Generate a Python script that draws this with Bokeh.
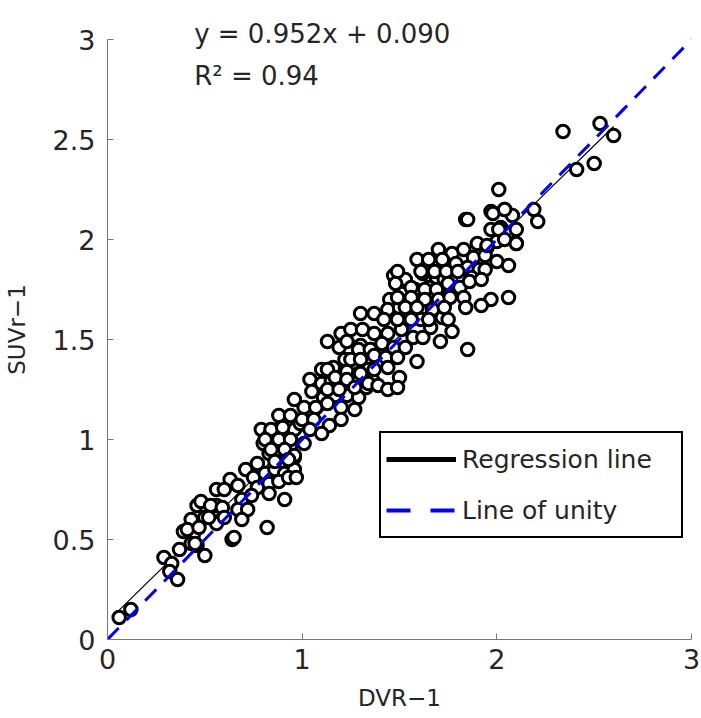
from bokeh.plotting import figure
from bokeh.models import Range1d, Label, Legend, LegendItem, FixedTicker, ColumnDataSource
from bokeh.embed import file_html
from bokeh.resources import INLINE

# ---------------- data ----------------
dvr = [
    # lower-left
    0.06, 0.12, 0.29, 0.33, 0.32, 0.36, 0.37, 0.39, 0.44, 0.50, 0.64, 0.46, 0.51, 0.56, 0.50, 0.56, 0.43, 0.46,
    # 0.4 - 1.05 band
    0.79, 0.83, 0.89, 0.96, 0.99, 0.80, 0.88, 0.94, 0.83, 0.77, 0.89, 0.96, 0.71, 0.75, 0.81, 0.86, 0.91, 0.96,
    0.63, 0.67, 0.77, 0.83, 0.88, 0.93, 0.56, 0.60, 0.69, 0.74, 0.83, 0.91, 0.48, 0.53, 0.59, 0.67, 0.72, 0.52,
    0.60, 0.69, 0.43, 0.41, 0.47, 0.82, 0.65, 0.45, 0.97,
    # 0.75 - 1.4 band
    1.20, 1.24, 1.30, 1.35, 1.22, 1.29, 1.35, 1.10, 1.16, 1.23, 1.29, 1.34, 1.04, 1.10, 1.15, 1.21, 1.27, 1.33,
    1.36, 1.05, 1.11, 1.17, 1.23, 1.29, 0.96, 1.01, 1.07, 1.13, 1.20, 1.27, 0.88, 0.94, 1.00, 1.06, 1.14, 1.20,
    0.84, 0.90, 1.04, 1.10, 0.81, 0.88, 0.94, 1.01, 0.84, 0.91, 0.96, 0.86, 0.93,
    # 1.1 - 1.75 band
    1.47, 1.53, 1.62, 1.69, 1.73, 1.45, 1.51, 1.58, 1.65, 1.70, 1.44, 1.50, 1.56, 1.62, 1.68, 1.73, 1.30, 1.37,
    1.42, 1.49, 1.55, 1.61, 1.66, 1.72, 1.20, 1.25, 1.31, 1.37, 1.44, 1.51, 1.57, 1.62, 1.71, 1.13, 1.19, 1.23,
    1.29, 1.35, 1.41, 1.47, 1.53, 1.59, 1.13, 1.25, 1.30, 1.37, 1.43, 1.49, 1.17, 1.23, 1.30, 1.37, 1.44, 1.50,
    1.13, 1.19, 1.27, 1.34, 1.39, 1.44, 1.49,
    # 1.45 - 2.1 band
    1.84, 1.97, 2.04, 2.08, 1.97, 2.02, 2.06, 2.10, 1.90, 1.95, 2.00, 1.70, 1.77, 1.83, 1.88, 1.94, 1.59, 1.65,
    1.72, 1.79, 1.85, 1.91, 2.00, 2.06, 1.49, 1.61, 1.68, 1.74, 1.80, 1.87, 1.94, 1.48, 1.56, 1.63, 1.69, 1.75,
    1.81, 1.86, 1.92, 1.49, 1.56, 1.63, 1.70, 1.76, 1.83, 1.97, 2.06, 1.92, 1.53, 1.59, 1.67, 1.73, 1.84, 1.56,
    1.65, 1.75, 1.49, 1.85, 1.77,
    # upper-right
    2.34, 2.53, 2.60, 2.50, 2.41, 2.01, 1.85, 1.98, 2.04, 2.19, 2.21, 2.01, 2.10, 2.04, 2.10, 1.95,
]
suvr = [
    # lower-left
    0.11, 0.15, 0.41, 0.38, 0.34, 0.30, 0.45, 0.54, 0.52, 0.42, 0.50, 0.67, 0.66, 0.67, 0.61, 0.58, 0.48, 0.47,
    # 0.4 - 1.05 band
    1.05, 1.02, 1.06, 1.05, 1.08, 0.98, 0.95, 0.97, 0.93, 0.88, 0.89, 0.91, 0.85, 0.81, 0.83, 0.85, 0.83, 0.85,
    0.80, 0.77, 0.76, 0.78, 0.79, 0.81, 0.75, 0.75, 0.70, 0.72, 0.73, 0.70, 0.69, 0.67, 0.66, 0.65, 0.65, 0.61,
    0.61, 0.60, 0.60, 0.55, 0.56, 0.56, 0.51, 0.48, 0.81,
    # 0.75 - 1.4 band
    1.46, 1.45, 1.47, 1.45, 1.40, 1.41, 1.40, 1.35, 1.36, 1.34, 1.33, 1.35, 1.30, 1.28, 1.29, 1.28, 1.28, 1.26,
    1.30, 1.24, 1.21, 1.22, 1.22, 1.21, 1.20, 1.16, 1.16, 1.18, 1.16, 1.15, 1.12, 1.12, 1.10, 1.10, 1.07, 1.10,
    1.05, 1.06, 1.05, 1.03, 1.00, 1.00, 1.00, 0.98, 0.95, 0.95, 0.92, 0.89, 0.90,
    # 1.1 - 1.75 band
    1.82, 1.80, 1.83, 1.81, 1.80, 1.70, 1.73, 1.75, 1.76, 1.75, 1.65, 1.66, 1.68, 1.66, 1.65, 1.68, 1.63, 1.63,
    1.60, 1.60, 1.61, 1.60, 1.56, 1.61, 1.53, 1.55, 1.55, 1.53, 1.53, 1.55, 1.51, 1.51, 1.49, 1.49, 1.46, 1.49,
    1.45, 1.45, 1.48, 1.46, 1.46, 1.39, 1.35, 1.40, 1.40, 1.42, 1.41, 1.41, 1.31, 1.30, 1.33, 1.35, 1.36, 1.31,
    1.25, 1.25, 1.26, 1.28, 1.27, 1.25, 1.26,
    # 1.45 - 2.1 band
    2.10, 2.14, 2.15, 2.12, 2.05, 2.06, 2.03, 1.98, 1.98, 1.96, 1.99, 1.95, 1.93, 1.95, 1.91, 1.92, 1.90, 1.90,
    1.90, 1.88, 1.86, 1.85, 1.89, 1.87, 1.84, 1.84, 1.84, 1.84, 1.84, 1.81, 1.85, 1.78, 1.76, 1.75, 1.75, 1.78,
    1.76, 1.79, 1.80, 1.71, 1.71, 1.70, 1.70, 1.71, 1.71, 1.70, 1.71, 1.67, 1.66, 1.66, 1.65, 1.66, 1.66, 1.60,
    1.60, 1.60, 1.60, 1.45, 1.54,
    # upper-right
    2.54, 2.58, 2.52, 2.38, 2.35, 2.25, 2.10, 2.13, 2.15, 2.15, 2.09, 2.05, 2.05, 2.00, 1.98, 1.97,
]

slope = 0.952
intercept = 0.090
eq_text = "y = 0.952x + 0.090"
r2_text = "R\u00b2 = 0.94"
x_ticks = [0, 1, 2, 3]
y_ticks = [0, 0.5, 1, 1.5, 2, 2.5, 3]
x_label = "DVR\u22121"
y_label = "SUVr\u22121"
legend_labels = ["Regression line", "Line of unity"]

FONT = "DejaVu Sans"
TXT = "#262626"

p = figure(width=701, height=718, output_backend="svg", toolbar_location=None,
           x_range=Range1d(0, 3), y_range=Range1d(0, 3.1),
           min_border_left=106, min_border_right=10, min_border_top=19, min_border_bottom=79)
p.outline_line_color = None
p.background_fill_color = "white"
p.border_fill_color = "white"
p.xgrid.visible = False
p.ygrid.visible = False

for ax in (p.xaxis[0], p.yaxis[0]):
    ax.axis_line_color = "#777777"
    ax.axis_line_width = 1
    ax.major_tick_line_color = "#777777"
    ax.major_tick_in = 6
    ax.major_tick_out = 0
    ax.minor_tick_line_color = None
    ax.major_label_text_font = FONT
    ax.major_label_text_font_size = "27px"
    ax.major_label_text_color = TXT
    ax.axis_label_text_font = FONT
    ax.axis_label_text_font_size = "23px"
    ax.axis_label_text_font_style = "normal"
    ax.axis_label_text_color = TXT

p.yaxis.bounds = (0, 3)
p.xaxis.ticker = FixedTicker(ticks=x_ticks)
p.yaxis.ticker = FixedTicker(ticks=y_ticks)
p.xaxis.major_label_overrides = {0: "0", 1: "1", 2: "2", 3: "3"}
p.yaxis.major_label_overrides = {0: "0", 0.5: "0.5", 1: "1", 1.5: "1.5", 2: "2", 2.5: "2.5", 3: "3"}
p.xaxis.major_label_standoff = 9
p.yaxis.major_label_standoff = 12
p.xaxis.axis_label = x_label
p.yaxis.axis_label = y_label
p.xaxis.axis_label_standoff = 13
p.yaxis.axis_label_standoff = 20

# regression line (under markers)
xr = [min(dvr), max(dvr)]
yr = [slope * v + intercept for v in xr]
p.line(xr, yr, line_color="black", line_width=1.2)

# scatter
src = ColumnDataSource(dict(x=dvr, y=suvr))
p.scatter("x", "y", source=src, marker="circle", size=12.5, line_color="black",
          line_width=3, fill_color="white")

# unity line
p.line([0, 3], [0, 3], line_color="#0000ff", line_width=3, line_dash="16 11")

# legend (proxy renderers, drawn outside the visible range)
r_reg = p.line([-5, -4], [-5, -4], line_color="black", line_width=5)
r_uni = p.line([-5, -4], [-5, -4], line_color="#0000ff", line_width=4, line_dash="24 20")
legend = Legend(items=[LegendItem(label=legend_labels[0], renderers=[r_reg]),
                       LegendItem(label=legend_labels[1], renderers=[r_uni])],
                location=(272, 101), orientation="vertical",
                border_line_color="black", border_line_width=2, border_line_alpha=1,
                background_fill_color="white", background_fill_alpha=1,
                label_text_font=FONT, label_text_font_size="25px", label_text_color=TXT,
                glyph_width=70, glyph_height=30, label_height=42, label_width=214,
                label_standoff=6, padding=5, spacing=9, margin=0)
p.add_layout(legend, "center")

# annotations
p.add_layout(Label(x=0.445, y=3.03, text=eq_text, text_font=FONT, text_font_size="26px",
                   text_color=TXT, text_baseline="middle", text_align="left"))
p.add_layout(Label(x=0.445, y=2.82, text=r2_text, text_font=FONT, text_font_size="26px",
                   text_color=TXT, text_baseline="middle", text_align="left"))

open("out.html", "w").write(file_html(p, INLINE))
